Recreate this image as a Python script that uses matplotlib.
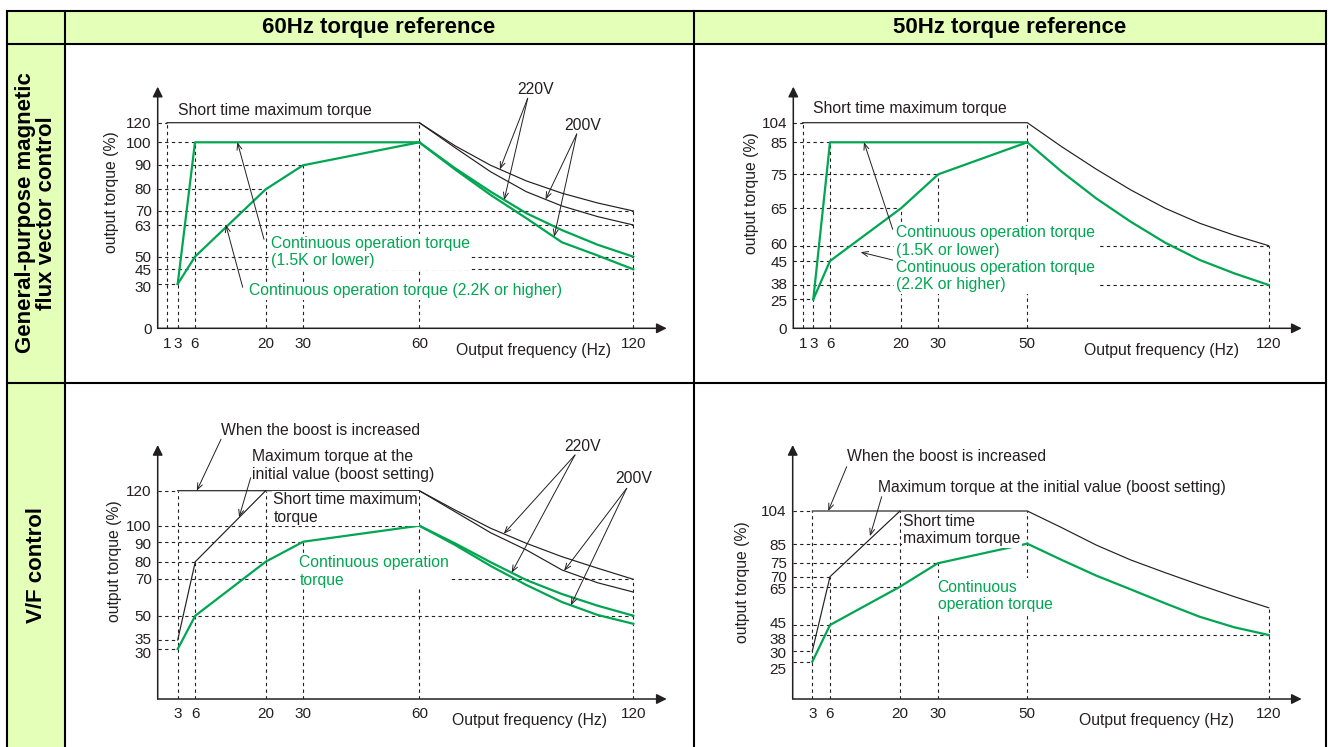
import numpy as np
import matplotlib.pyplot as plt
from matplotlib.patches import Rectangle
from matplotlib.transforms import ScaledTranslation

plt.rcParams['font.family'] = ['Liberation Sans', 'DejaVu Sans']

W, H = 1335, 747
INK = '#231f20'
GREEN = '#00a651'
FILL = '#e4ffb8'
FS = 11.3

# ---- values ----
freq_60 = [60, 70, 80, 90, 100, 110, 120]
freq_50 = [50, 60, 70, 80, 90, 100, 110, 120]

# general-purpose magnetic flux vector control, 60Hz reference
tl_max_220 = [120, 98.5, 90, 83.5, 78.2, 73.7, 70]
tl_max_200 = [120, 97.7, 87.3, 78.9, 72.3, 67.2, 63]
tl_cont_220 = [100, 88.8, 78.9, 68.9, 60.9, 54.9, 50]
tl_cont_200 = [100, 88.3, 77.4, 66.4, 55.9, 50.5, 45]
tl_small_f = [3, 6, 60]
tl_small_t = [30, 100, 100]
tl_large_f = [3, 6, 20, 30, 60]
tl_large_t = [30, 50, 80, 90, 100]

# general-purpose magnetic flux vector control, 50Hz reference
tr_max = [104, 83.6, 76.6, 70.4, 65, 63, 61.4, 60]
tr_cont = [85, 75.8, 67.9, 63.2, 60.4, 46, 41.4, 38]
tr_small_f = [3, 6, 50]
tr_small_t = [25, 85, 85]
tr_large_f = [3, 6, 20, 30, 50]
tr_large_t = [25, 45, 65, 75, 85]

# V/F control, 60Hz reference
bl_max_220 = [120, 109, 98.4, 89.2, 82.5, 76.3, 70]
bl_max_200 = [120, 108, 95.6, 85.9, 75.3, 68.1, 63]
bl_cont_220 = [100, 89.2, 79.7, 69.6, 61.9, 55.5, 50]
bl_cont_200 = [100, 88.4, 77.6, 66.9, 57.5, 50.4, 45]
bl_boost_f = [3, 6, 20]
bl_boost_t = [35, 80, 120]
bl_cont_f = [3, 6, 20, 30, 60]
bl_cont_t = [30, 50, 80, 90, 100]

# V/F control, 50Hz reference
br_max = [104, 94.3, 84.3, 76.7, 71.5, 65.9, 59.8, 54]
br_cont = [85, 76.7, 70.4, 63.6, 56.3, 49.3, 43.4, 38]
br_boost_f = [3, 6, 20]
br_boost_t = [30, 70, 104]
br_cont_f = [3, 6, 20, 30, 50]
br_cont_t = [25, 45, 65, 75, 85]

# tick labels
tl_xticks = [1, 3, 6, 20, 30, 60, 120]
tl_yticks = [0, 30, 45, 50, 63, 70, 80, 90, 100, 120]
tr_xticks = [1, 3, 6, 20, 30, 50, 120]
tr_yticks = [0, 25, 38, 45, 60, 65, 75, 85, 104]
bl_xticks = [3, 6, 20, 30, 60, 120]
bl_yticks = [30, 35, 50, 70, 80, 90, 100, 120]
br_xticks = [3, 6, 20, 30, 50, 120]
br_yticks = [25, 30, 38, 45, 65, 70, 75, 85, 104]

# dashed guides: (x, top) and (y, right end)
tl_vguides = [(1, 120), (3, 30), (6, 100), (20, 80), (30, 90), (60, 120), (120, 70)]
tl_hguides = [(120, 1), (100, 6), (90, 30), (80, 20), (70, 120), (63, 120),
              (50, 120), (45, 120), (30, 3)]
tr_vguides = [(1, 104), (3, 25), (6, 85), (20, 65), (30, 75), (50, 104), (120, 60)]
tr_hguides = [(104, 1), (85, 6), (75, 30), (65, 20), (60, 120), (45, 6), (38, 120), (25, 3)]
bl_vguides = [(3, 120), (6, 80), (20, 120), (30, 90), (60, 120), (120, 70)]
bl_hguides = [(120, 3), (100, 60), (90, 30), (80, 20), (70, 120), (50, 120), (35, 3), (30, 3)]
br_vguides = [(3, 104), (6, 70), (20, 104), (30, 75), (50, 104), (120, 54)]
br_hguides = [(104, 3), (85, 50), (75, 30), (70, 6), (65, 20), (45, 6), (38, 120),
              (30, 3), (25, 3)]

fig = plt.figure(figsize=(W / 100, H / 100), dpi=100)

# background axes in reference pixel coordinates (table + free text)
bg = fig.add_axes([0, 0, 1, 1])
bg.set_xlim(0, W)
bg.set_ylim(H, 0)
bg.axis('off')

L, R, TOP, HDR, COL, MID, ROW = 6.5, 1326, 11, 43.7, 64.5, 693.7, 383
bg.add_patch(Rectangle((L, TOP), R - L, HDR - TOP, color=FILL, lw=0))
bg.add_patch(Rectangle((L, HDR), COL - L, H + 20, color=FILL, lw=0))
for y in (TOP, HDR, ROW):
    bg.plot([L, R], [y, y], color='black', lw=1.5, solid_capstyle='projecting')
for x in (L, COL, MID, R):
    bg.plot([x, x], [TOP, H + 20], color='black', lw=1.5, solid_capstyle='projecting')

bg.text((COL + MID) / 2, 27.5, '60Hz torque reference', ha='center', va='center',
        fontsize=16, fontweight='bold', color='black')
bg.text((MID + R) / 2, 27.5, '50Hz torque reference', ha='center', va='center',
        fontsize=16, fontweight='bold', color='black')
bg.text(36, 213, 'General-purpose magnetic\nflux vector control', rotation=90,
        ha='center', va='center', multialignment='center', fontsize=16,
        fontweight='bold', linespacing=1.0)
bg.text(36, 565, 'V/F control', rotation=90, ha='center', va='center',
        fontsize=16, fontweight='bold')


def make_panel(box, xknots, yknots, xticks, yticks, nudge):
    l, t, r, b = box
    ax = fig.add_axes([l / W, 1 - b / H, (r - l) / W, (b - t) / H])
    xd, xp = np.array(xknots, dtype=float).T
    yd, yp = np.array(yknots, dtype=float).T
    ax.set_xscale('function', functions=(lambda v: np.interp(v, xd, xp),
                                         lambda p: np.interp(p, xp, xd)))
    ax.set_yscale('function', functions=(lambda v: -np.interp(v, yd, yp),
                                         lambda p: np.interp(p, -yp, yd)))
    ax.set_xlim(xd[0], xd[-1])
    ax.set_ylim(yd[0], yd[-1])
    ax.patch.set_visible(False)
    for s in ax.spines.values():
        s.set_visible(False)
    ax.set_xticks(xticks)
    ax.set_xticklabels([str(v) for v in xticks])
    ax.set_yticks(yticks)
    ax.set_yticklabels([])
    ax.minorticks_off()
    ax.tick_params(axis='both', length=0, labelsize=11, labelcolor=INK)
    ax.tick_params(axis='x', pad=6)
    # y tick labels drawn by hand so crowded ones can be nudged like the reference
    for v in yticks:
        off = ScaledTranslation(-6 / 100, -(nudge.get(v, 0) + 1.2) / 100, fig.dpi_scale_trans)
        ax.text(0, v, str(v), transform=ax.get_yaxis_transform() + off,
                ha='right', va='center', fontsize=11, color=INK)
    arrow = dict(arrowstyle='-|>', mutation_scale=15, lw=1.1, color=INK,
                 shrinkA=0, shrinkB=0)
    ax.annotate('', xy=(1, 0), xytext=(0, 0), xycoords='axes fraction', arrowprops=arrow)
    ax.annotate('', xy=(0, 1), xytext=(0, 0), xycoords='axes fraction', arrowprops=arrow)
    return ax


def guides(ax, vg, hg):
    for x, top in vg:
        ax.plot([x, x], [0, top], ls=(0, (3, 3)), lw=0.8, color=INK, zorder=1)
    for y, right in hg:
        ax.plot([0, right], [y, y], ls=(0, (3, 3)), lw=0.8, color=INK, zorder=1)


def label(ax, x, y, s, color=INK, ha='left', box=False, **kw):
    bbox = dict(boxstyle='square,pad=0.1', fc='white', ec='none') if box else None
    ax.text(x, y, s, transform=bg.transData, ha=ha, va='center', fontsize=FS,
            color=color, bbox=bbox, zorder=4, **kw)


def pointer(ax, tail, f, fs, ts):
    tip = (f, np.interp(f, fs, ts))
    ax.annotate('', xy=tip, xycoords='data', xytext=tail, textcoords=bg.transData,
                arrowprops=dict(arrowstyle='->,head_length=0.45,head_width=0.18',
                                lw=0.7, color=INK, shrinkA=0, shrinkB=0), zorder=5)


def axis_text(ax, xlab, ylab):
    label(ax, xlab[0], xlab[1], 'Output frequency (Hz)', ha='center')
    label(ax, ylab[0], ylab[1], 'output torque (%)', ha='center', rotation=90)


BLK = dict(color=INK, lw=0.85, zorder=3)
GRN = dict(color=GREEN, lw=1.6, zorder=3)

# ---------- top left ----------
ax = make_panel((157.7, 86.7, 666.7, 328.3),
                [(0, 157.7), (1, 167), (3, 177.7), (6, 195), (20, 265.7), (30, 303),
                 (60, 419.3), (120, 633.3), (130, 666.7)],
                [(0, 328.3), (30, 284), (45, 269.3), (50, 256.7), (63, 225), (70, 211),
                 (80, 189.3), (90, 165.3), (100, 142.3), (120, 122.7), (140, 86.7)],
                tl_xticks, tl_yticks, {30: 2.7, 45: 0.7, 63: 0.7})
guides(ax, tl_vguides, tl_hguides)
ax.plot([1] + freq_60, [120] + tl_max_220, **BLK)
ax.plot(freq_60, tl_max_200, **BLK)
ax.plot(tl_small_f, tl_small_t, **GRN)
ax.plot(tl_large_f, tl_large_t, **GRN)
ax.plot(freq_60, tl_cont_220, **GRN)
ax.plot(freq_60, tl_cont_200, **GRN)
label(ax, 178.3, 110, 'Short time maximum torque')
label(ax, 270.7, 252, 'Continuous operation torque\n(1.5K or lower)', color=GREEN, box=True)
label(ax, 249.3, 290.7, 'Continuous operation torque (2.2K or higher)', color=GREEN, box=True)
label(ax, 536, 90, '220V', ha='center')
label(ax, 582.3, 125.7, '200V', ha='center')
pointer(ax, (264, 239.3), 14.4, tl_small_f, tl_small_t)
pointer(ax, (242.7, 287.3), 12.1, tl_large_f, tl_large_t)
pointer(ax, (527.7, 98.3), 82.6, freq_60, tl_max_220)
pointer(ax, (527.7, 98.3), 83.8, freq_60, tl_cont_220)
pointer(ax, (576.7, 134), 95.4, freq_60, tl_max_200)
pointer(ax, (576.7, 134), 97.8, freq_60, tl_cont_200)
axis_text(ax, (534, 350), (111.7, 192.5))

# ---------- top right ----------
ax = make_panel((793.3, 86.7, 1301.7, 328.3),
                [(0, 793.3), (1, 802.7), (3, 813.3), (6, 830), (20, 901), (30, 938.3),
                 (50, 1027.3), (120, 1268.7), (130, 1301.7)],
                [(0, 328.3), (25, 299.3), (38, 285), (45, 261), (60, 245.7), (65, 208.3),
                 (75, 174.3), (85, 142.3), (104, 122.7), (125, 86.7)],
                tr_xticks, tr_yticks, {60: -1.7, 45: 0.7, 38: -1, 25: 1.4})
guides(ax, tr_vguides, tr_hguides)
ax.plot([1] + freq_50, [104] + tr_max, **BLK)
ax.plot(tr_small_f, tr_small_t, **GRN)
ax.plot(tr_large_f, tr_large_t, **GRN)
ax.plot(freq_50, tr_cont, **GRN)
label(ax, 813.3, 109, 'Short time maximum torque')
label(ax, 896, 241.3, 'Continuous operation torque\n(1.5K or lower)', color=GREEN, box=True)
label(ax, 896, 276.3, 'Continuous operation torque\n(2.2K or higher)', color=GREEN, box=True)
pointer(ax, (892.7, 229.3), 12.7, tr_small_f, tr_small_t)
pointer(ax, (892.7, 260), 12.05, tr_large_f, tr_large_t)
axis_text(ax, (1161.7, 350.7), (751.7, 193.3))

# ---------- bottom left ----------
ax = make_panel((157.7, 445, 666.7, 699),
                [(0, 157.7), (3, 177.7), (6, 195.3), (20, 265.7), (30, 303.3),
                 (60, 419.3), (120, 633.3), (130, 666.7)],
                [(0, 699), (30, 649), (35, 640), (50, 615.7), (70, 579.3), (80, 561.7),
                 (90, 541.7), (100, 525.7), (120, 490.7), (150, 445)],
                bl_xticks, bl_yticks, {30: 4.3, 90: 1.7, 35: -0.7})
guides(ax, bl_vguides, bl_hguides)
ax.plot([3] + freq_60, [120] + bl_max_220, **BLK)
ax.plot(freq_60, bl_max_200, **BLK)
ax.plot(bl_boost_f, bl_boost_t, **BLK)
ax.plot(bl_cont_f, bl_cont_t, **GRN)
ax.plot(freq_60, bl_cont_220, **GRN)
ax.plot(freq_60, bl_cont_200, **GRN)
label(ax, 221, 430.7, 'When the boost is increased')
label(ax, 252.3, 465.5, 'Maximum torque at the\ninitial value (boost setting)')
label(ax, 273.3, 508.5, 'Short time maximum\ntorque', box=True)
label(ax, 299.3, 571.3, 'Continuous operation\ntorque', color=GREEN, box=True)
label(ax, 582.7, 446.7, '220V', ha='center')
label(ax, 633.3, 478.3, '200V', ha='center')
pointer(ax, (221, 439.3), 6.3, [3, 60], [120, 120])
pointer(ax, (250.7, 477.7), 14.7, bl_boost_f, bl_boost_t)
pointer(ax, (575, 455), 83.7, freq_60, bl_max_220)
pointer(ax, (575, 455), 85.9, freq_60, bl_cont_220)
pointer(ax, (626.7, 488.3), 100.6, freq_60, bl_max_200)
pointer(ax, (626.7, 488.3), 102.5, freq_60, bl_cont_200)
axis_text(ax, (530, 720.7), (115, 560.8))

# ---------- bottom right ----------
ax = make_panel((792.7, 445, 1301.7, 699),
                [(0, 792.7), (3, 812.3), (6, 830), (20, 900), (30, 937.7),
                 (50, 1027.3), (120, 1268.7), (130, 1301.7)],
                [(0, 699), (25, 661.7), (30, 651), (38, 635), (45, 625), (65, 586.7),
                 (70, 576.7), (75, 563.3), (85, 543.7), (104, 511), (125, 445)],
                br_xticks, br_yticks,
                {85: 1.3, 75: -0.6, 65: 1.6, 45: -1.7, 38: 3.3, 30: 1.7, 25: 6.6})
guides(ax, br_vguides, br_hguides)
ax.plot([3] + freq_50, [104] + br_max, **BLK)
ax.plot(br_boost_f, br_boost_t, **BLK)
ax.plot(br_cont_f, br_cont_t, **GRN)
ax.plot(freq_50, br_cont, **GRN)
label(ax, 846.7, 456.7, 'When the boost is increased')
label(ax, 877.7, 487.7, 'Maximum torque at the initial value (boost setting)')
label(ax, 903.3, 530, 'Short time\nmaximum torque', box=True)
label(ax, 937.7, 596, 'Continuous\noperation torque', color=GREEN, box=True)
pointer(ax, (846.7, 466.7), 5.7, [3, 50], [104, 104])
pointer(ax, (881.7, 496.7), 14, br_boost_f, br_boost_t)
axis_text(ax, (1156.7, 720), (742.7, 581.7))

fig.savefig('out.png', dpi=100)
